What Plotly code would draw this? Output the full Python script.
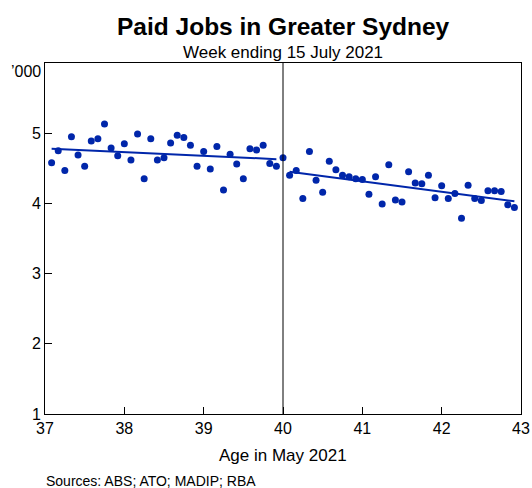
import plotly.graph_objects as go

# Age of the worker in completed months at May 2021 (37y 1m .. 42y 11m)
age_months = list(range(445, 516))

# Paid jobs ('000) per single month of age, week ending 15 July 2021
paid_jobs = [
    4.58, 4.75, 4.47, 4.95, 4.69, 4.53, 4.89, 4.92, 5.13, 4.79, 4.68, 4.85,
    4.62, 4.99, 4.35, 4.92, 4.62, 4.65, 4.86, 4.97, 4.94, 4.83, 4.53, 4.74,
    4.49, 4.81, 4.19, 4.70, 4.56, 4.35, 4.78, 4.76, 4.83, 4.57, 4.53, 4.65,
    4.40, 4.47, 4.07, 4.74, 4.33, 4.16, 4.60, 4.48, 4.40, 4.38, 4.35, 4.34,
    4.13, 4.38, 3.99, 4.55, 4.05, 4.02, 4.45, 4.29, 4.28, 4.40, 4.08, 4.25,
    4.07, 4.14, 3.79, 4.26, 4.07, 4.04, 4.18, 4.18, 4.17, 3.98, 3.94,
]

# Linear trends either side of the age-40 cut-off
trend_below_months = [445, 479]
trend_below_values = [4.78, 4.63]
trend_above_months = [481, 515]
trend_above_values = [4.45, 4.03]

x_ticks = [37, 38, 39, 40, 41, 42, 43]
y_ticks = [1, 2, 3, 4, 5]
cutoff_age = 40

BLUE = "rgb(0,38,170)"
FONT = "Liberation Sans, Arial, sans-serif"

fig = go.Figure()

fig.add_trace(go.Scatter(
    x=[m / 12 for m in trend_below_months], y=trend_below_values,
    mode="lines", line=dict(color=BLUE, width=2), hoverinfo="skip",
))
fig.add_trace(go.Scatter(
    x=[m / 12 for m in trend_above_months], y=trend_above_values,
    mode="lines", line=dict(color=BLUE, width=2), hoverinfo="skip",
))
fig.add_trace(go.Scatter(
    x=[m / 12 for m in age_months], y=paid_jobs,
    mode="markers", marker=dict(color=BLUE, size=7),
))

fig.add_shape(type="line", xref="x", yref="paper",
              x0=cutoff_age, x1=cutoff_age, y0=0, y1=1,
              line=dict(color="black", width=1))

axis_common = dict(
    showgrid=False, zeroline=False, showline=True, mirror=True,
    linecolor="black", linewidth=1, automargin=False,
    ticks="inside", ticklen=7, tickcolor="black", tickwidth=1,
    tickfont=dict(family=FONT, size=16, color="black"),
)

fig.update_xaxes(range=[37, 43], tickvals=x_ticks, **axis_common)
fig.update_yaxes(range=[1, 6], tickvals=y_ticks, **axis_common)

annotations = [
    dict(text="<b>Paid Jobs in Greater Sydney</b>", x=0.5, y=1.105,
         font=dict(size=24.5)),
    dict(text="Week ending 15 July 2021", x=0.5, y=1.03, font=dict(size=17)),
    dict(text="’000", x=0, y=0.976, xanchor="right", xshift=-2,
         font=dict(size=16)),
    dict(text="Age in May 2021", x=0.5, y=-0.117, font=dict(size=17)),
    dict(text="Sources: ABS; ATO; MADIP; RBA", x=-0.003, y=-0.19,
         xanchor="left", font=dict(size=14)),
]
for a in annotations:
    a.setdefault("xanchor", "center")
    a["font"] = dict(family=FONT, color="black", **a["font"])
    fig.add_annotation(xref="paper", yref="paper", yanchor="middle",
                       showarrow=False, **a)

fig.update_layout(
    width=532, height=488,
    margin=dict(l=45, r=11, t=63, b=74, autoexpand=False),
    paper_bgcolor="white", plot_bgcolor="white",
    showlegend=False,
    font=dict(family=FONT, color="black"),
)

fig.write_html("out.html")
